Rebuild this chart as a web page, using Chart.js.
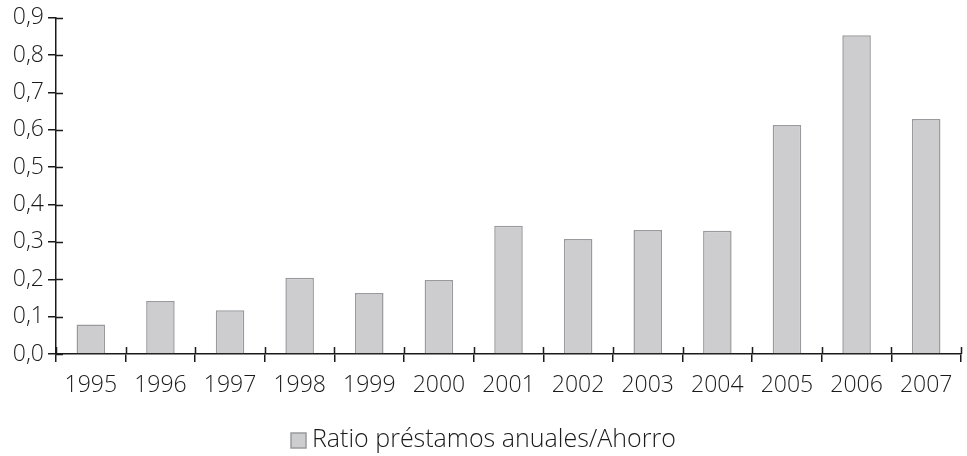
<!DOCTYPE html>
<html lang="es">
<head>
<meta charset="UTF-8">
<title>Ratio préstamos anuales/Ahorro</title>
<script src="https://cdn.jsdelivr.net/npm/chart.js@4.4.1/dist/chart.umd.min.js"></script>
<style>
  html, body { margin: 0; padding: 0; background: #fff; }
  #wrap { width: 967px; height: 456px; }
</style>
</head>
<body>
<div id="wrap"><canvas id="chart" width="967" height="456"></canvas></div>
<script>
// datos
const years = ['1995', '1996', '1997', '1998', '1999', '2000', '2001', '2002', '2003', '2004', '2005', '2006', '2007'];
const ratio = [0.079, 0.142, 0.117, 0.204, 0.163, 0.198, 0.343, 0.308, 0.332, 0.330, 0.613, 0.853, 0.629];
const seriesName = 'Ratio préstamos anuales/Ahorro';

const axisColor = '#1a1a1a';
const textColor = '#1a1a1a';
const fontFamily = '"Open Sans", "Noto Sans", sans-serif';

// marcas que cruzan el eje (hacia dentro)
const crossTicks = {
  id: 'crossTicks',
  afterDraw(chart) {
    const { ctx, scales: { x, y } } = chart;
    ctx.save();
    ctx.strokeStyle = axisColor;
    ctx.lineWidth = 1.5;
    ctx.beginPath();
    y.ticks.forEach((t, i) => {
      const py = Math.round(y.getPixelForTick(i)) + 0.5;
      ctx.moveTo(x.left, py);
      ctx.lineTo(x.left + 7, py);
    });
    for (let i = 0; i <= years.length; i++) {
      const px = Math.round(x.left + (x.right - x.left) * i / years.length) + 0.5;
      ctx.moveTo(px, y.bottom);
      ctx.lineTo(px, y.bottom - 7);
    }
    ctx.stroke();
    ctx.restore();
  }
};

// leyenda simple: cuadro pegado al texto
const simpleLegend = {
  id: 'simpleLegend',
  afterDraw(chart) {
    const { ctx, width } = chart;
    const ds = chart.data.datasets[0];
    ctx.save();
    ctx.font = '300 25px ' + fontFamily;
    const tw = ctx.measureText(ds.label).width;
    const box = 15, gap = 6;
    const x0 = Math.round(width / 2 - (box + gap + tw) / 2);
    const cy = 440;
    ctx.fillStyle = ds.backgroundColor;
    ctx.strokeStyle = ds.borderColor;
    ctx.lineWidth = 1.5;
    ctx.fillRect(x0, cy - 7, box, box);
    ctx.strokeRect(x0, cy - 7, box, box);
    ctx.fillStyle = textColor;
    ctx.textBaseline = 'middle';
    ctx.fillText(ds.label, x0 + box + gap, cy);
    ctx.restore();
  }
};

new Chart(document.getElementById('chart'), {
  type: 'bar',
  data: {
    labels: years,
    datasets: [{
      label: seriesName,
      data: ratio,
      backgroundColor: '#cdcdd0',
      borderColor: '#999a9d',
      borderWidth: 1.5,
      barPercentage: 0.82,
      categoryPercentage: 0.5
    }]
  },
  options: {
    responsive: false,
    animation: false,
    layout: { padding: { top: 8, right: 6, left: 0, bottom: 36 } },
    plugins: {
      legend: { display: false },
      tooltip: { enabled: false }
    },
    scales: {
      x: {
        offset: true,
        border: { color: axisColor, width: 1.5 },
        grid: { offset: true, drawOnChartArea: false, drawTicks: true, tickLength: 8, color: axisColor, lineWidth: 1.5 },
        ticks: { color: textColor, font: { family: fontFamily, size: 23, weight: '300' }, padding: 10, maxRotation: 0 },
        afterFit: s => { s.height = 66; }
      },
      y: {
        min: 0,
        max: 0.9,
        border: { color: axisColor, width: 1.5 },
        grid: { drawOnChartArea: false, drawTicks: true, tickLength: 8, color: axisColor, lineWidth: 1.5 },
        ticks: {
          stepSize: 0.1,
          color: textColor,
          font: { family: fontFamily, size: 23, weight: '300' },
          padding: 4,
          callback: v => v.toFixed(1).replace('.', ',')
        },
        afterFit: s => { s.width = 56; }
      }
    }
  },
  plugins: [crossTicks, simpleLegend]
});
</script>
</body>
</html>
